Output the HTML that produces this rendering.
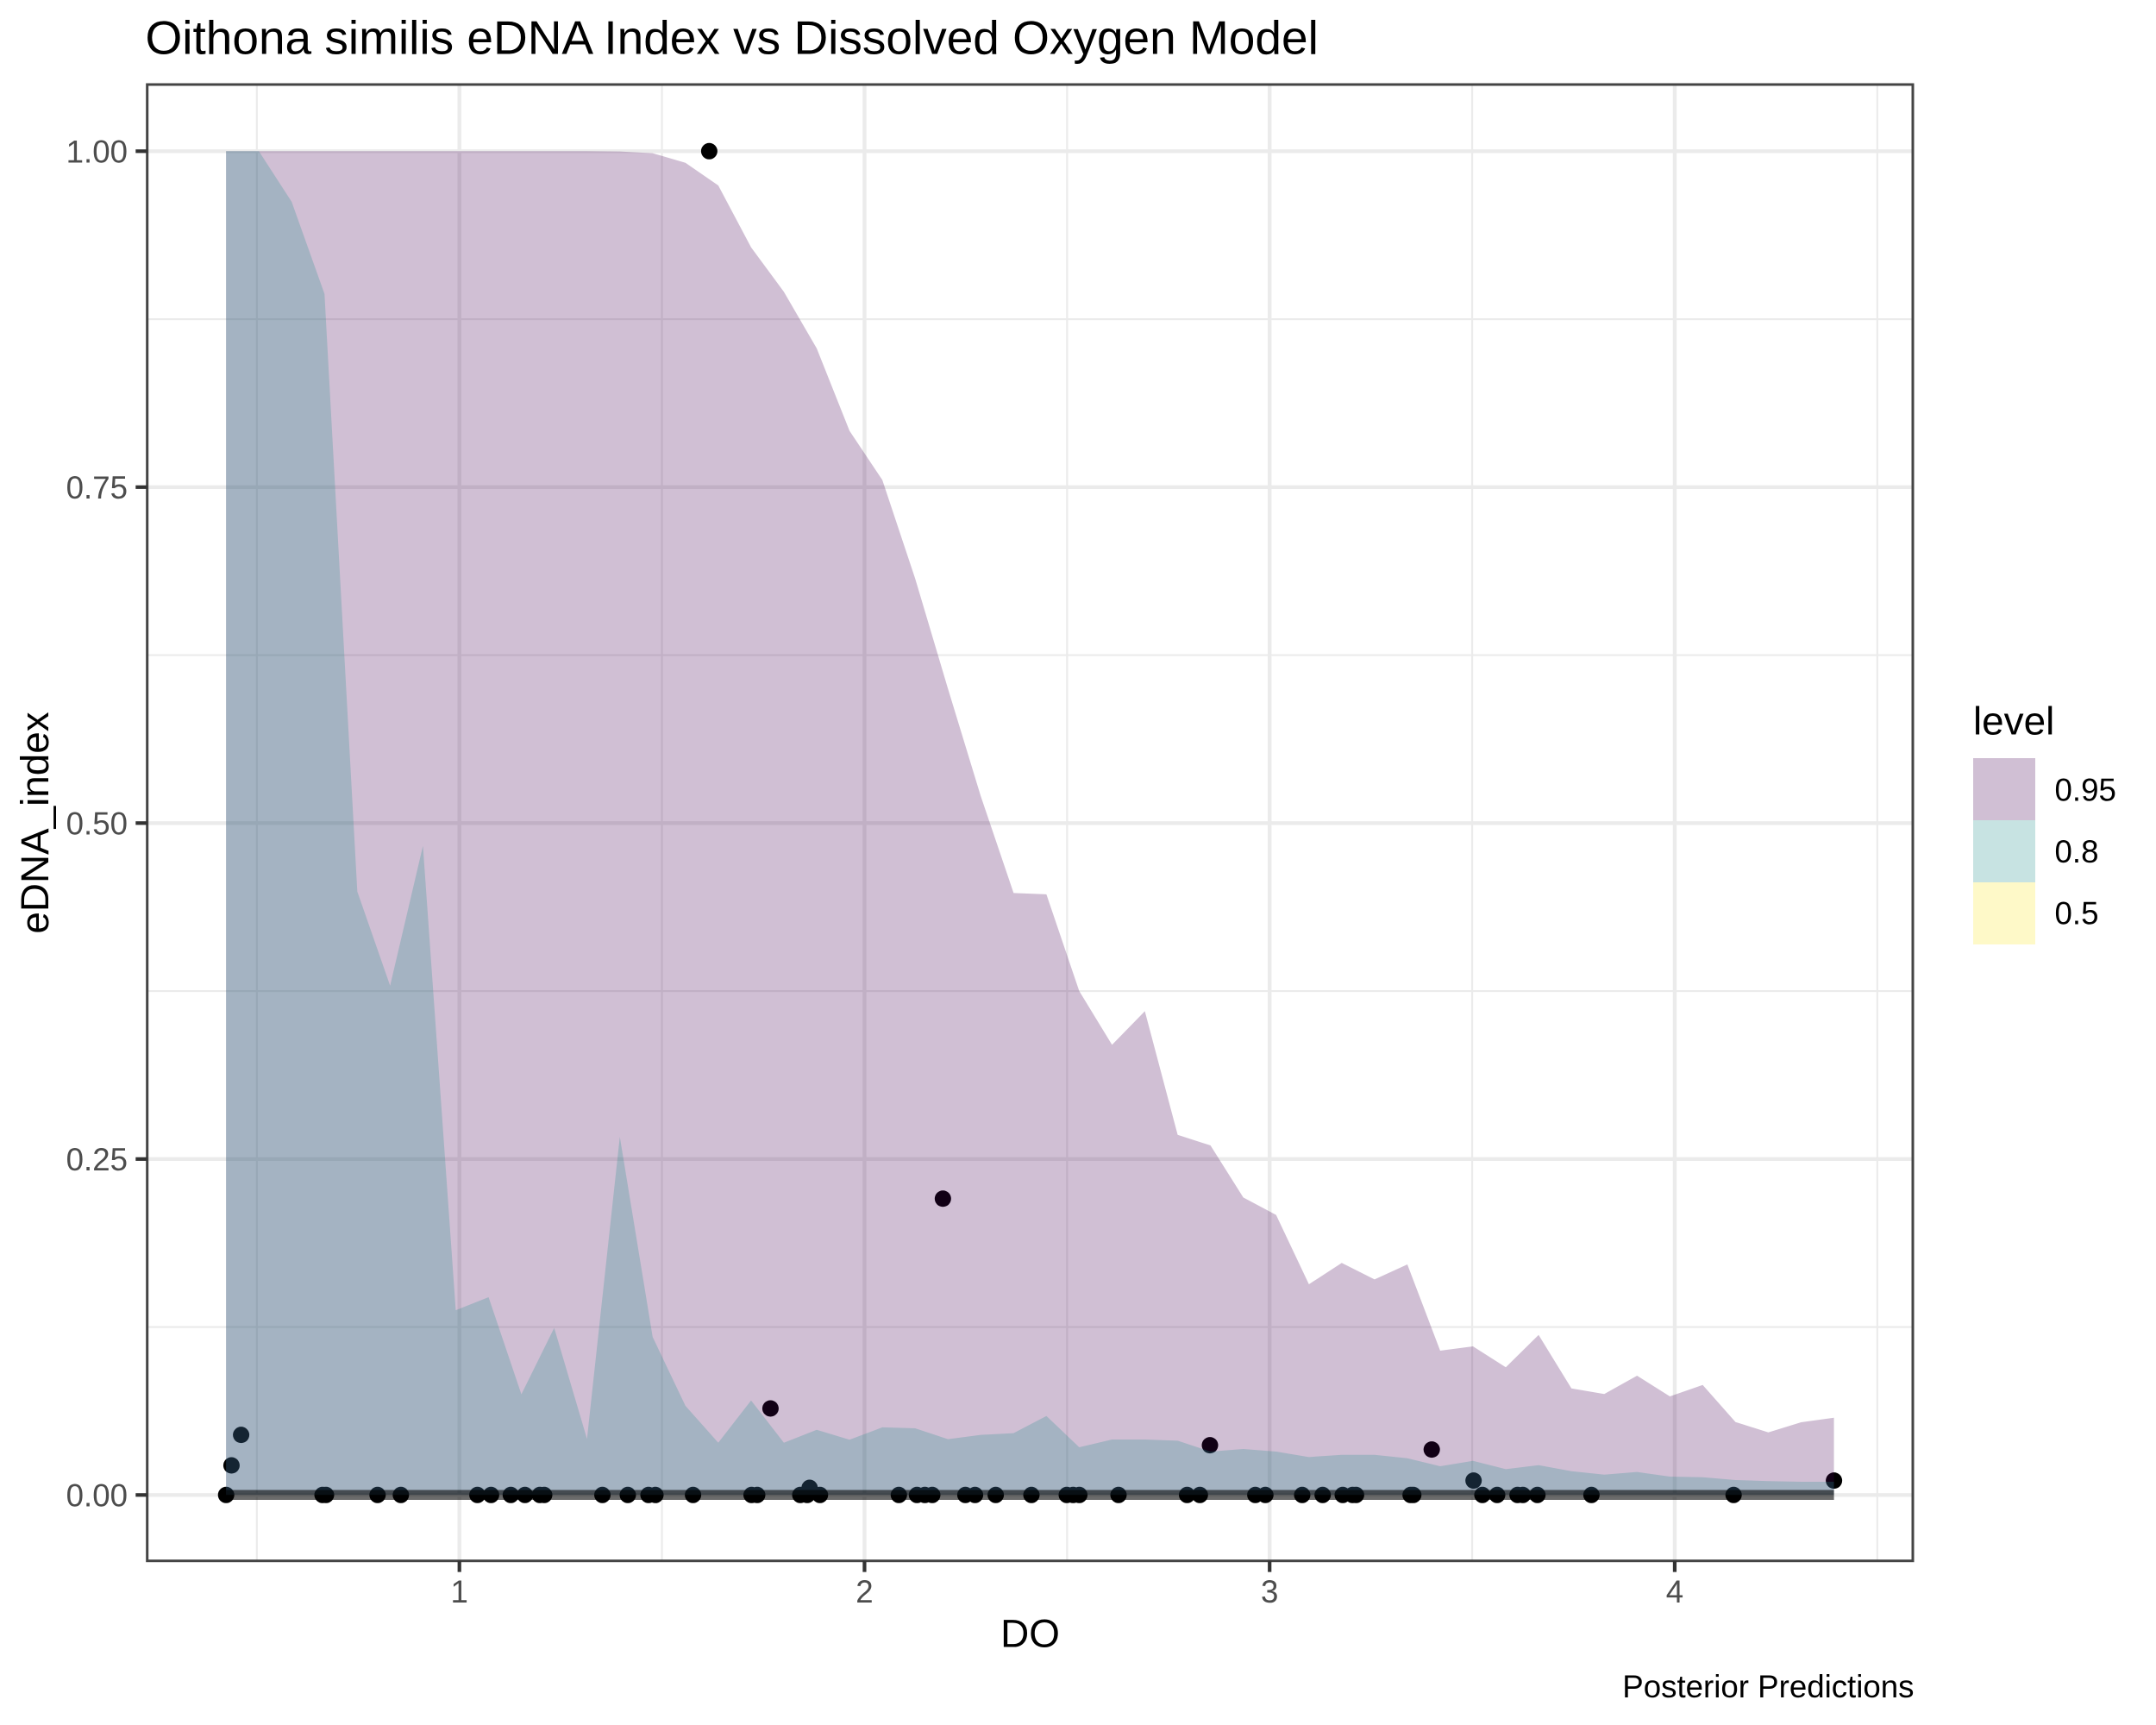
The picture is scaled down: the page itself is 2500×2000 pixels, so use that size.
<!DOCTYPE html>
<html lang="en">
<head>
<meta charset="utf-8">
<title>Oithona similis eDNA Index vs Dissolved Oxygen Model</title>
<style>
html,body{margin:0;padding:0;background:#fff;}
svg{display:block;}
text{font-family:"Liberation Sans",Arial,sans-serif;}
</style>
</head>
<body>
<svg id="chart" xmlns="http://www.w3.org/2000/svg" width="2500" height="2000" viewBox="0 0 2500 2000">
  <rect x="0" y="0" width="2500" height="2000" fill="#ffffff"/>
  <text x="168.5" y="62.5" font-size="55" fill="#000">Oithona similis eDNA Index vs Dissolved Oxygen Model</text>
  <g id="grid"></g>
  <g id="points"></g>
  <g id="ribbons"></g>
  <g id="lines"></g>
  <rect x="170.7" y="98" width="2047.3" height="1711.7" fill="none" stroke="#444444" stroke-width="3"/>
  <g id="xaxis"></g>
  <g id="yaxis"></g>
  <text x="1194.5" y="1909.5" font-size="45.83" text-anchor="middle" fill="#000">DO</text>
  <text transform="translate(56,954) rotate(-90)" font-size="45.83" text-anchor="middle" fill="#000">eDNA_index</text>
  <text x="2219.5" y="1968" font-size="36.67" text-anchor="end" fill="#000">Posterior Predictions</text>
  <g>
    <text x="2288" y="851.7" font-size="45.83" fill="#000">level</text>
    <rect x="2288" y="879" width="72" height="72" fill="#440154" fill-opacity="0.25"/>
    <rect x="2288" y="951" width="72" height="72" fill="#21908C" fill-opacity="0.25"/>
    <rect x="2288" y="1023" width="72" height="72" fill="#FDE725" fill-opacity="0.25"/>
    <text x="2382.5" y="928.3" font-size="36.67" fill="#000">0.95</text>
    <text x="2382.5" y="1000" font-size="36.67" fill="#000">0.8</text>
    <text x="2382.5" y="1071.7" font-size="36.67" fill="#000">0.5</text>
  </g>
</svg>
<script>
const gridDO = [0.424,0.505,0.586,0.667,0.748,0.829,0.910,0.991,1.072,1.153,1.234,1.315,1.396,1.477,1.558,1.639,1.720,1.801,1.882,1.963,2.044,2.125,2.206,2.287,2.368,2.449,2.530,2.611,2.692,2.773,2.854,2.935,3.016,3.097,3.178,3.259,3.340,3.421,3.502,3.583,3.664,3.745,3.826,3.907,3.988,4.069,4.150,4.231,4.312,4.393];
const upper95 = [1,1,1,1,1,1,1,1,1,1,1,1,0.9998,0.9985,0.9914,0.9745,0.9285,0.8953,0.8533,0.7919,0.7553,0.682,0.600,0.520,0.448,0.447,0.375,0.335,0.360,0.268,0.2601,0.2214,0.2084,0.1568,0.1727,0.1604,0.1716,0.1074,0.1106,0.0950,0.1191,0.0793,0.0751,0.0888,0.0734,0.0819,0.0543,0.0466,0.0541,0.0575];
const upper80 = [1,1,0.9623,0.8938,0.449,0.379,0.483,0.1375,0.1472,0.0749,0.1243,0.0417,0.2665,0.1176,0.0663,0.0389,0.0703,0.0389,0.0485,0.0411,0.0503,0.0496,0.0415,0.0447,0.046,0.0588,0.0355,0.0413,0.0413,0.0404,0.0323,0.0342,0.0323,0.0282,0.0299,0.0299,0.0273,0.0214,0.0254,0.0192,0.0222,0.0177,0.0151,0.0171,0.0137,0.0132,0.0111,0.0103,0.0098,0.0098];
const upper50 = [0,0,0,0,0,0,0,0,0,0,0,0,0,0,0,0,0,0,0,0,0,0,0,0,0,0,0,0,0,0,0,0,0,0,0,0,0,0,0,0,0,0,0,0,0,0,0,0,0,0];
const medianLine = [0,0,0,0,0,0,0,0,0,0,0,0,0,0,0,0,0,0,0,0,0,0,0,0,0,0,0,0,0,0,0,0,0,0,0,0,0,0,0,0,0,0,0,0,0,0,0,0,0,0];
const pointDO = [0.4242,0.6622,0.6707,0.798,0.8555,1.0445,1.0781,1.1269,1.1618,1.1986,1.2093,1.353,1.4157,1.4668,1.4839,1.5767,1.7212,1.7351,1.8415,1.8585,1.8900,2.0848,2.1295,2.1489,2.1672,2.249,2.2728,2.3239,2.412,2.4993,2.515,2.5302,2.627,2.7963,2.8278,2.9647,2.9895,3.0804,3.1309,3.1805,3.2048,3.2133,3.348,3.3546,3.5252,3.5616,3.612,3.625,3.661,3.7944,4.1453,0.4374,0.4612,1.6167,1.7679,1.8645,2.1935,2.8527,3.4002,3.5034,4.3931];
const pointIndex = [0,0,0,0,0,0,0,0,0,0,0,0,0,0,0,0,0,0,0,0,0,0,0,0,0,0,0,0,0,0,0,0,0,0,0,0,0,0,0,0,0,0,0,0,0,0,0,0,0,0,0,0.022,0.0447,1.0,0.0644,0.0053,0.2205,0.037,0.0338,0.0107,0.0107];
const xMajorTicks = [1,2,3,4];
const xMinorTicks = [0.5,1.5,2.5,3.5,4.5];
const yMajorTicks = [0,0.25,0.5,0.75,1];
const yMinorTicks = [0.125,0.375,0.625,0.875];
const yTickLabels = ["0.00","0.25","0.50","0.75","1.00"];

const NS = "http://www.w3.org/2000/svg";
const panel = {left:170.7, right:2218, top:98, bottom:1809.7};
function xScale(v){ return 532.7 + (v - 1) * 469.75; }
function yScale(v){ return 1733.3 - v * 1558; }
function make(tag, parent, attrs){
  const el = document.createElementNS(NS, tag);
  for (const k in attrs) el.setAttribute(k, attrs[k]);
  parent.appendChild(el);
  return el;
}
const gridG = document.getElementById('grid');
const pointsG = document.getElementById('points');
const ribbonsG = document.getElementById('ribbons');
const linesG = document.getElementById('lines');
const xaxisG = document.getElementById('xaxis');
const yaxisG = document.getElementById('yaxis');

xMinorTicks.forEach(function(t){
  const el = make('line', gridG, {x1:xScale(t), x2:xScale(t), y1:panel.top, y2:panel.bottom, stroke:'#EBEBEB', 'stroke-width':2.2});
  
  
});
yMinorTicks.forEach(function(t){
  const el = make('line', gridG, {x1:panel.left, x2:panel.right, y1:yScale(t), y2:yScale(t), stroke:'#EBEBEB', 'stroke-width':2.2});
  
  
});
xMajorTicks.forEach(function(t){
  const el = make('line', gridG, {x1:xScale(t), x2:xScale(t), y1:panel.top, y2:panel.bottom, stroke:'#EBEBEB', 'stroke-width':4.4});
  
  
});
yMajorTicks.forEach(function(t){
  const el = make('line', gridG, {x1:panel.left, x2:panel.right, y1:yScale(t), y2:yScale(t), stroke:'#EBEBEB', 'stroke-width':4.4});
  
  
});

pointDO.forEach(function(d, i){
  const el = make('circle', pointsG, {cx:xScale(d), cy:yScale(pointIndex[i]), r:9.5, fill:'#000'});
  
  
});

function ribbonPath(upper){
  let d = 'M' + xScale(gridDO[0]).toFixed(2) + ' ' + yScale(0).toFixed(2);
  gridDO.forEach(function(x, i){
    d += 'L' + xScale(x).toFixed(2) + ' ' + yScale(upper[i]).toFixed(2);
  });
  d += 'L' + xScale(gridDO[gridDO.length-1]).toFixed(2) + ' ' + yScale(0).toFixed(2) + 'Z';
  return d;
}
const ribbon95 = make('path', ribbonsG, {d:ribbonPath(upper95), fill:'#440154', 'fill-opacity':0.25});


const ribbon80 = make('path', ribbonsG, {d:ribbonPath(upper80), fill:'#21908C', 'fill-opacity':0.25});


const ribbon50 = make('path', ribbonsG, {d:ribbonPath(upper50), fill:'#FDE725', 'fill-opacity':0.25});



const linePts = gridDO.map(function(x, i){ return xScale(x).toFixed(2) + ',' + yScale(medianLine[i]).toFixed(2); }).join(' ');
[0,1,2].forEach(function(){
  const el = make('polyline', linesG, {points:linePts, fill:'none', stroke:'#000', 'stroke-opacity':0.25, 'stroke-width':11.5});
  
  
});

xMajorTicks.forEach(function(t){
  const tick = make('line', xaxisG, {x1:xScale(t), x2:xScale(t), y1:panel.bottom, y2:panel.bottom + 12.9, stroke:'#333333', 'stroke-width':4.2});
  
  
  const lab = make('text', xaxisG, {x:xScale(t), y:1858, 'font-size':36.67, 'text-anchor':'middle', fill:'#4D4D4D'});
  lab.textContent = String(t);
  
  
});
yMajorTicks.forEach(function(t, i){
  const tick = make('line', yaxisG, {x1:157.3, x2:panel.left, y1:yScale(t), y2:yScale(t), stroke:'#333333', 'stroke-width':4.2});
  
  
  const lab = make('text', yaxisG, {x:148, y:yScale(t) + 13.4, 'font-size':36.67, 'text-anchor':'end', fill:'#4D4D4D'});
  lab.textContent = yTickLabels[i];
  
  
});
</script>
</body>
</html>
